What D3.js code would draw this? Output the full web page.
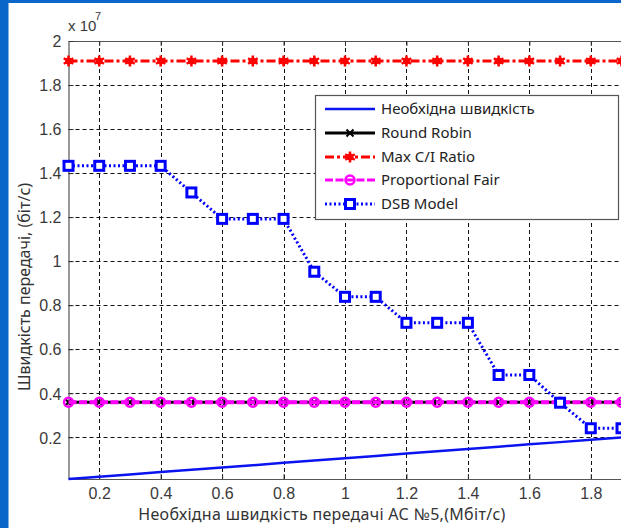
<!DOCTYPE html>
<html><head><meta charset="utf-8">
<script src="https://cdn.jsdelivr.net/npm/d3@7"></script>
<style>
html,body{margin:0;padding:0;background:#fff;overflow:hidden}
svg{display:block}
</style></head>
<body>
<svg id="chart" width="621" height="528"></svg>
<script>
// ---- data (y values in units of 1e7 bit/s) ----
const xValues = [0.1,0.2,0.3,0.4,0.5,0.6,0.7,0.8,0.9,1.0,1.1,1.2,1.3,1.4,1.5,1.6,1.7,1.8,1.9];
const required = [0.0105,0.021,0.031,0.042,0.052,0.063,0.073,0.084,0.094,0.105,0.115,0.126,0.136,0.147,0.157,0.168,0.178,0.189,0.199];
const roundRobin = [0.359,0.359,0.359,0.359,0.359,0.359,0.359,0.359,0.359,0.359,0.359,0.359,0.359,0.359,0.359,0.359,0.359,0.359,0.359];
const maxCI = [1.909,1.909,1.909,1.909,1.909,1.909,1.909,1.909,1.909,1.909,1.909,1.909,1.909,1.909,1.909,1.909,1.909,1.909,1.909];
const propFair = [0.359,0.359,0.359,0.359,0.359,0.359,0.359,0.359,0.359,0.359,0.359,0.359,0.359,0.359,0.359,0.359,0.359,0.359,0.359];
const dsb = [1.433,1.433,1.433,1.433,1.312,1.192,1.192,1.192,0.952,0.838,0.838,0.72,0.72,0.72,0.483,0.483,0.357,0.241,0.241];
const xTicks = [0.2,0.4,0.6,0.8,1.0,1.2,1.4,1.6,1.8];
const xTickLabels = ["0.2","0.4","0.6","0.8","1","1.2","1.4","1.6","1.8"];
const yTicks = [0.2,0.4,0.6,0.8,1.0,1.2,1.4,1.6,1.8,2.0];
const yTickLabels = ["0.2","0.4","0.6","0.8","1","1.2","1.4","1.6","1.8","2"];
const legendLabels = ["Необхідна швидкість","Round Robin","Max C/I Ratio","Proportional Fair","DSB Model"];
const xTitle = "Необхідна швидкість передачі АС №5,(Мбіт/с)";
const yTitle = "Швидкість передачі, (біт/с)";

const svg = d3.select("#chart");
// slide frame
svg.append("rect").attr("x",0).attr("y",0).attr("width",621).attr("height",528).attr("fill","#fff");
svg.append("rect").attr("x",0).attr("y",0).attr("width",8.5).attr("height",528).attr("fill","#0a66c8");
svg.append("rect").attr("x",0).attr("y",0).attr("width",621).attr("height",3).attr("fill","#0a66c8");

const x = d3.scaleLinear().domain([0.1,1.9]).range([68.5,621.5]);
const y = d3.scaleLinear().domain([0.0105,2]).range([479,41]);
const L = x.range()[0], R = x.range()[1], T = y.range()[1], B = y.range()[0];

// grid
const grid = svg.append("g");
grid.selectAll("line.gx").data(xTicks).join("line")
  .attr("x1",d=>Math.round(x(d))+0.5).attr("x2",d=>Math.round(x(d))+0.5)
  .attr("y1",T).attr("y2",B).attr("stroke","#111").attr("stroke-width",1).attr("stroke-dasharray","4,3");
grid.selectAll("line.gy").data(yTicks.filter(d=>d<2)).join("line")
  .attr("y1",d=>Math.round(y(d))+0.5).attr("y2",d=>Math.round(y(d))+0.5)
  .attr("x1",L).attr("x2",R).attr("stroke","#111").attr("stroke-width",1).attr("stroke-dasharray","4,3");

// axes (D3 axes, inward ticks)
const axisColor = "#555";
const xAxisB = svg.append("g").attr("transform",`translate(0,${B})`)
  .call(d3.axisBottom(x).tickValues(xTicks).tickFormat((d,i)=>xTickLabels[i]).tickSizeInner(-5).tickSizeOuter(0).tickPadding(9));
const xAxisT = svg.append("g").attr("transform",`translate(0,${T})`)
  .call(d3.axisTop(x).tickValues(xTicks).tickFormat("").tickSizeInner(-5).tickSizeOuter(0));
const yAxisL = svg.append("g").attr("transform",`translate(${L},0)`)
  .call(d3.axisLeft(y).tickValues(yTicks).tickFormat((d,i)=>yTickLabels[i]).tickSizeInner(-5).tickSizeOuter(0).tickPadding(7));
[xAxisB,xAxisT,yAxisL].forEach(g=>{
  g.selectAll("path.domain").attr("stroke",axisColor).attr("stroke-width",1.2);
  g.selectAll(".tick line").attr("stroke","#333");
  g.selectAll("text").attr("font-family","'Liberation Sans', Arial, sans-serif").attr("font-size",16).attr("fill","#3a3a3a");
});
yAxisL.selectAll("text").attr("dy","0.36em");

// exponent
svg.append("text").attr("x",68).attr("y",31).attr("font-family","'Liberation Sans', Arial, sans-serif").attr("font-size",15).attr("fill","#3a3a3a").text("x 10");
svg.append("text").attr("x",95).attr("y",20).attr("font-family","'Liberation Sans', Arial, sans-serif").attr("font-size",11).attr("fill","#3a3a3a").text("7");

// titles
svg.append("text").attr("x",322).attr("y",520).attr("text-anchor","middle").attr("letter-spacing","0.3px")
  .attr("font-family","'Noto Sans', sans-serif").attr("font-size",16).attr("fill","#333").text(xTitle);
svg.append("text").attr("transform","translate(30,287) rotate(-90)").attr("text-anchor","middle")
  .attr("font-family","'Noto Sans', sans-serif").attr("font-size",16).attr("fill","#333").text(yTitle);

// clip
svg.append("clipPath").attr("id","clip").append("rect").attr("x",L-8).attr("y",T-8).attr("width",R-L+16).attr("height",B-T+16);
const plot = svg.append("g").attr("clip-path","url(#clip)");
const line = d3.line().x((d,i)=>x(xValues[i])).y(d=>y(d));

// marker helpers
function star(g, cx, cy, color){
  const s = 5.5;
  g.append("circle").attr("cx",cx).attr("cy",cy).attr("r",3.5).attr("fill",color);
  [[0,1],[0.866,0.5],[0.866,-0.5]].forEach(([dx,dy])=>{
    g.append("line").attr("x1",cx-dx*s).attr("y1",cy-dy*s).attr("x2",cx+dx*s).attr("y2",cy+dy*s)
      .attr("stroke",color).attr("stroke-width",2.5);
  });
}
function cross(g,cx,cy,color){
  const s=3.5;
  g.append("path").attr("d",`M${cx-s},${cy-s}L${cx+s},${cy+s}M${cx-s},${cy+s}L${cx+s},${cy-s}`)
    .attr("stroke",color).attr("stroke-width",2).attr("fill","none");
}
function ring(g,cx,cy,color){
  g.append("circle").attr("cx",cx).attr("cy",cy).attr("r",4.5).attr("fill","none").attr("stroke",color).attr("stroke-width",2.5);
}
function square(g,cx,cy,color){
  g.append("rect").attr("x",cx-4.5).attr("y",cy-4.5).attr("width",9).attr("height",9)
    .attr("fill","#fff").attr("stroke",color).attr("stroke-width",3);
}

// series
plot.append("path").datum(required).attr("d",line).attr("fill","none").attr("stroke","#0a14f0").attr("stroke-width",2.5);

plot.append("path").datum(roundRobin).attr("d",line).attr("fill","none").attr("stroke","#000").attr("stroke-width",3);
const rrG = plot.append("g");
roundRobin.forEach((v,i)=>cross(rrG,x(xValues[i]),y(v),"#000"));

plot.append("path").datum(maxCI).attr("d",line).attr("fill","none").attr("stroke","#ff0000").attr("stroke-width",3).attr("stroke-dasharray","9,3,3,3");
const mcG = plot.append("g");
maxCI.forEach((v,i)=>star(mcG,x(xValues[i]),y(v),"#ff0000"));

plot.append("path").datum(propFair).attr("d",line).attr("fill","none").attr("stroke","#ff00ff").attr("stroke-width",4).attr("stroke-dasharray","8,2.5");
const pfG = plot.append("g");
propFair.forEach((v,i)=>ring(pfG,x(xValues[i]),y(v),"#ff00ff"));

plot.append("path").datum(dsb).attr("d",line).attr("fill","none").attr("stroke","#0000ff").attr("stroke-width",3).attr("stroke-dasharray","2,2.5");
const dsG = plot.append("g");
dsb.forEach((v,i)=>square(dsG,x(xValues[i]),y(v),"#0000ff"));

// legend
const lg = svg.append("g");
lg.append("rect").attr("x",315.5).attr("y",95.5).attr("width",303).attr("height",124).attr("fill","#fff").attr("stroke","#555").attr("stroke-width",1.2);
const rowsY = [109,133,157,180,204];
const x0 = 325, x1 = 375, xm = 350;
lg.append("line").attr("x1",x0).attr("x2",x1).attr("y1",rowsY[0]).attr("y2",rowsY[0]).attr("stroke","#0a14f0").attr("stroke-width",2.5);
lg.append("line").attr("x1",x0).attr("x2",x1).attr("y1",rowsY[1]).attr("y2",rowsY[1]).attr("stroke","#000").attr("stroke-width",3);
cross(lg,xm,rowsY[1],"#000");
lg.append("line").attr("x1",x0).attr("x2",x1).attr("y1",rowsY[2]).attr("y2",rowsY[2]).attr("stroke","#ff0000").attr("stroke-width",3).attr("stroke-dasharray","9,3,3,3");
star(lg,xm,rowsY[2],"#ff0000");
lg.append("line").attr("x1",x0).attr("x2",x1).attr("y1",rowsY[3]).attr("y2",rowsY[3]).attr("stroke","#ff00ff").attr("stroke-width",3).attr("stroke-dasharray","8,2.5");
ring(lg,xm,rowsY[3],"#ff00ff");
lg.append("line").attr("x1",x0).attr("x2",x1).attr("y1",rowsY[4]).attr("y2",rowsY[4]).attr("stroke","#0000ff").attr("stroke-width",3).attr("stroke-dasharray","2,2.5");
square(lg,xm,rowsY[4],"#0000ff");
lg.selectAll("text.lt").data(legendLabels).join("text")
  .attr("x",381).attr("y",(d,i)=>rowsY[i]).attr("dy","0.36em")
  .attr("font-family","'Noto Sans', sans-serif").attr("font-size",15).attr("fill","#222").text(d=>d);
</script>
</body></html>
